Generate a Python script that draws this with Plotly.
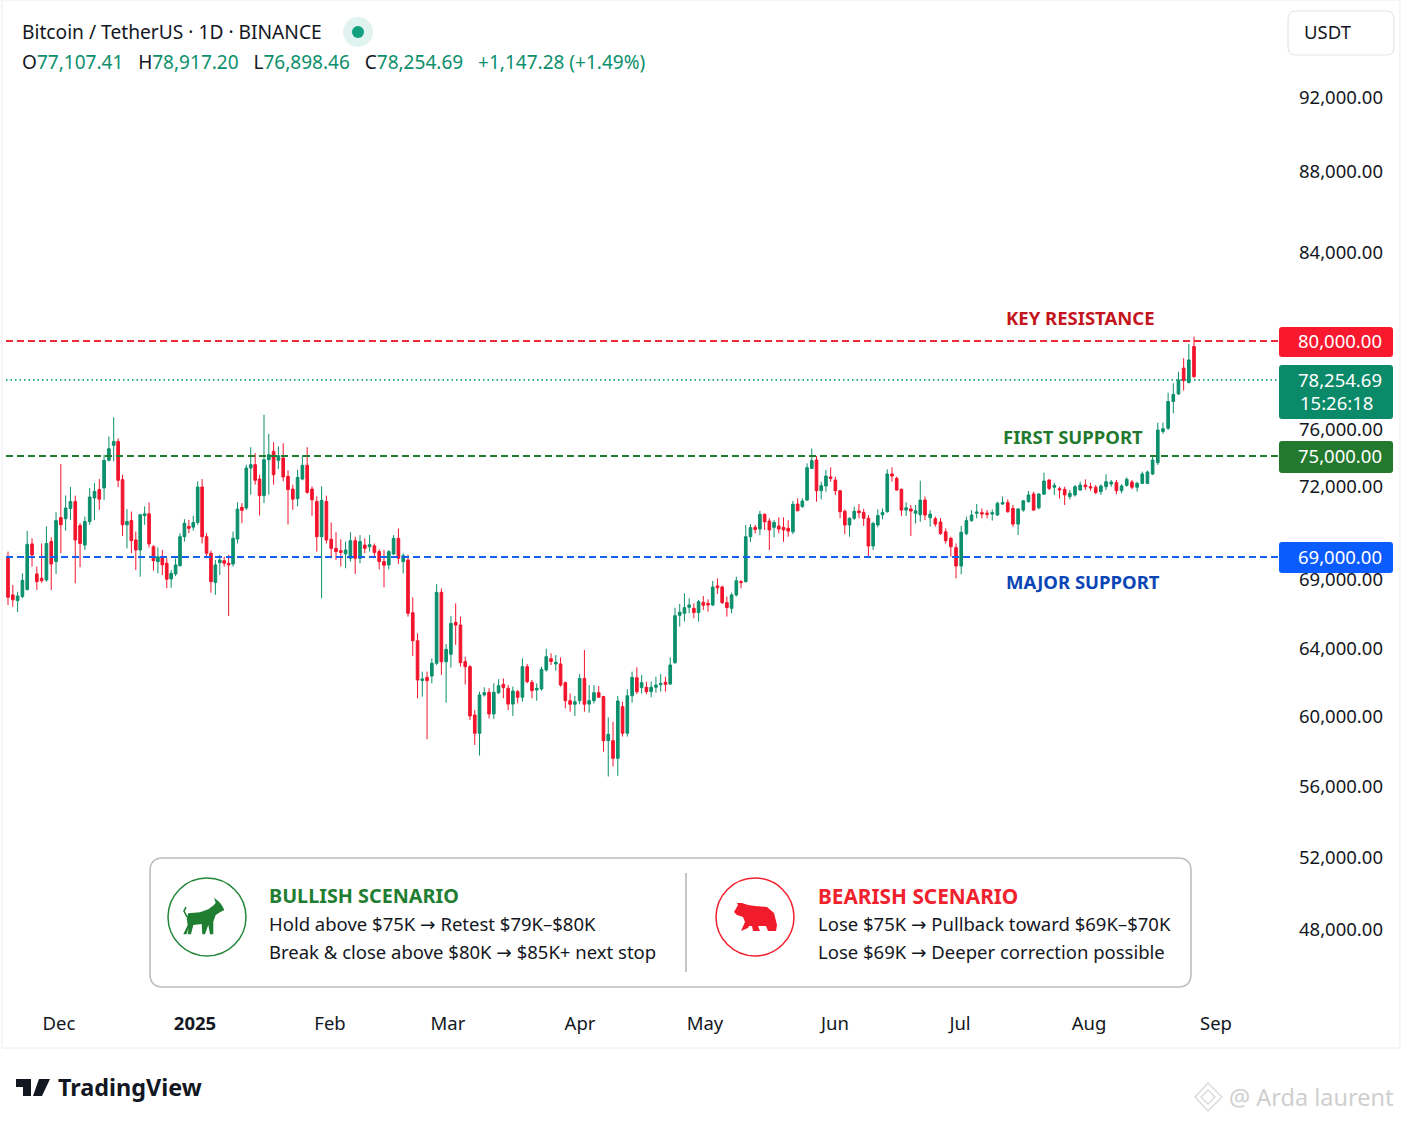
import numpy as np
import plotly.graph_objects as go

W, H = 1402, 1122
FONT = "Noto Sans"
UP = "#0b8f6c"
DOWN = "#f2142c"

# daily candles in USDT thousands
opens = [
    68.93,66.94,66.63,66.85,67.24,69.56,68.08,67.84,67.75,69.66,
    68.75,70.69,70.64,71.08,71.38,70.35,69.51,70.52,71.53,71.89,
    71.96,74.58,75.41,75.56,72.71,70.38,70.56,69.73,69.3,70.77,
    70.85,69.44,68.75,69.01,68.66,67.81,68.08,68.53,69.87,70.31,
    70.28,70.48,72,69.87,69.16,67.62,68.69,68.8,68.66,68.62,
    69.77,71.13,71.1,73.84,74.16,72.77,71.63,74.64,75.18,74.58,
    74.81,73.03,71.91,71.5,72.77,74.1,71.91,71.38,69.87,71.38,
    69.76,69.37,69.27,69.13,68.93,69.7,68.93,69.51,69.44,69.48,
    69.23,68.75,68.57,69.13,69.8,68.75,68.84,65.97,64.45,62.14,
    62.33,62.41,63.16,67.08,63.25,63.69,65.45,65.3,63.25,62.96,
    60.12,59.07,61.3,61.45,60.18,61.43,61.92,61.69,60.76,61.49,
    61.16,62.96,62.04,61.59,61.65,62.77,63.43,63.12,63.12,62.02,
    60.96,60.75,60.96,62.27,60.76,60.96,61.43,61.2,58.65,58.65,
    57.64,60.61,59.07,61.25,62.31,61.73,61.75,61.49,61.75,61.9,
    62.04,61.94,63.2,65.83,65.94,66.27,66.21,65.98,66.54,66.48,
    66.39,67.43,67.37,66.52,66.21,66.94,67.66,67.66,69.87,70.27,
    70.2,70.83,70.54,70.27,70.33,70.27,70.23,70.08,71.27,71.16,
    71.44,73.8,74.61,71.84,72.1,72.97,72.67,71.84,70.96,70.37,
    70.66,70.97,70.91,70.66,69.47,70.37,70.81,70.94,73.26,72.84,
    71.9,71.01,71.06,70.87,70.81,71.44,70.68,70.64,70.5,70.08,
    69.8,69.4,68.51,70,70.56,70.87,70.9,70.88,70.84,70.8,
    71.27,71.33,71.08,70.41,71.01,71.37,71.7,71.11,71.69,72.68,
    71.99,71.93,71.9,71.59,71.66,71.87,72.19,72.03,71.99,71.8,
    72.03,72.29,72.42,71.84,72.16,72.48,71.99,72.35,72.35,73.26,
    74.35,75.94,76.08,77.28,77.62,78.78,78.13,79.75,
]
highs = [
    69.23,67.48,67.11,68.11,70.12,69.8,68.48,69.58,70.31,69.84,
    70.92,74.22,71.64,72,71.63,70.45,70.73,71.96,72.39,72.77,
    75.05,75.75,76.57,75.68,73.19,71.05,70.95,70.09,70.85,71.17,
    71.34,69.51,69.41,69.3,68.93,68.29,68.93,70.02,70.62,70.59,
    70.77,72.55,72.77,70.02,69.27,68.84,69.09,69.01,69.09,70.09,
    71.34,71.31,74.16,75.34,75.11,73.19,76.69,75.85,75.53,75.37,
    75.49,73.61,72.23,73.68,75.03,75.34,72.06,71.6,72.06,71.63,
    70.48,70.06,69.76,69.66,70.06,69.87,69.94,69.8,69.94,69.58,
    69.33,69.3,69.3,69.94,70.23,69.16,69.09,66.81,64.85,62.67,
    62.67,63.45,67.53,67.29,64.27,65.79,66.48,65.76,63.55,63.06,
    60.41,61.49,61.75,61.69,61.98,62.22,62.27,61.88,61.79,61.59,
    63.45,63.12,62.18,61.98,62.96,64.02,63.75,63.65,63.51,62.08,
    61.39,61.24,62.53,63.94,61.88,61.88,61.82,61.24,59.98,59.73,
    61.24,60.9,61.63,62.67,62.92,62.47,62.08,62.08,62.37,62.53,
    62.37,63.51,66.24,66.45,67.03,66.76,66.48,66.67,66.88,66.7,
    67.7,67.84,67.44,66.85,67.06,67.93,67.75,70.37,70.41,70.37,
    70.98,70.87,70.66,70.58,70.7,70.7,70.58,71.4,71.51,71.51,
    74.29,75.29,75,72.51,73.64,73.9,73,71.87,71.04,70.7,
    71.16,71.27,71.06,70.8,70.51,71.04,71.08,73.71,73.9,73,
    71.94,71.34,71.23,71.23,72.61,71.59,71.01,70.73,70.67,70.23,
    69.87,69.58,70.33,70.73,71.01,71.27,71.08,71.01,71.04,71.37,
    71.59,71.47,71.23,71.08,71.44,71.83,71.8,71.73,73.39,72.74,
    72.42,72.03,72.03,71.87,72.19,72.51,72.74,72.42,72.19,72.26,
    73.23,72.68,72.68,72.29,72.94,72.68,72.51,73.49,73.58,75,
    76.33,76.33,77.68,78.1,78.62,79.23,79.87,80.2,
]
lows = [
    66.39,66.3,66,66.76,67.17,68.48,67.21,67.6,67.66,67.21,
    68.08,69.16,70.13,70.59,67.57,68.44,69.3,70.38,70.59,71.02,
    71.45,74.48,74.48,72,69.9,69.37,69.16,68.29,67.93,70.38,
    69.41,68.26,68.11,68.02,67.3,67.33,67.97,68.48,69.66,70.02,
    70.13,70.38,69.58,68.93,67.06,66.94,68.02,68.48,65.8,68.48,
    69.58,70.45,71.02,71.67,72.23,70.78,71.31,71.67,72.23,73.74,
    72.55,70.39,71.02,71.17,72.65,71.71,70.77,69.23,66.76,69.58,
    68.93,68.84,68.48,68.39,68.75,68.08,68.66,69.16,69.23,69,
    68.33,67.35,68.33,69.09,68.62,68.11,65.76,63.59,61.1,61.2,
    58.73,61.98,63.06,62.47,60.84,62.9,64.22,62.96,61.92,59.83,
    58.4,57.8,61.2,59.92,59.88,61.35,61.1,60.41,60.06,60.8,
    60.9,61.98,61.1,60.96,61.55,62.67,63.06,62.73,61.79,60.51,
    60.31,60.06,60.75,60.31,60.25,60.8,61.16,58.02,56.6,57.17,
    56.64,58.88,58.88,60.84,61.35,61.39,61.35,61.16,61.43,61.49,
    61.49,61.88,63.12,65.22,65.49,65.94,65.67,65.49,66.12,66.03,
    66.34,66.99,66.45,65.76,65.94,66.85,67.3,67.61,69.65,70.01,
    69.94,70.16,69.3,69.84,70.01,69.65,69.87,69.98,70.97,71.11,
    71.4,73.74,71.37,71.47,71.8,72.51,71.66,70.66,69.98,69.87,
    70.58,70.66,70.33,69.04,69.3,70.27,70.61,70.9,72.51,71.84,
    70.76,70.76,69.9,70.44,70.51,70.58,70.3,70.3,69.94,69.58,
    69.01,67.84,68.06,69.94,70.51,70.66,70.66,70.66,70.56,70.76,
    71.23,70.9,70.3,69.94,70.94,71.33,70.98,71.04,71.66,71.87,
    71.66,71.51,71.23,71.47,71.59,71.84,71.87,71.84,71.7,71.66,
    71.87,72.03,71.69,71.73,72.03,71.9,71.8,72.29,72.29,73.16,
    74.13,75.85,76,76.75,77.58,77.77,78.1,78.33,
]
closes = [
    66.81,66.67,66.88,67.73,69.54,69.09,67.66,67.71,69.58,68.62,
    70.56,70.38,71.1,71.38,69.73,69.58,70.52,71.57,71.81,71.48,
    74.58,75.28,75.56,72.65,70.38,70.52,69.7,69.3,70.81,70.85,
    69.56,68.8,69.01,68.57,67.79,68.11,68.57,69.87,70.45,70.23,
    70.48,72,69.87,69.16,67.66,68.57,68.84,68.66,68.57,69.8,
    71.05,71,73.84,74.16,72.65,71.63,74.64,75.05,73.19,75.01,
    72.97,71.89,71.48,72.93,74.1,71.77,71.45,69.87,71.43,69.73,
    69.37,69.23,69.19,69.3,69.7,68.93,69.66,69.37,69.53,69.19,
    68.75,68.55,69.23,69.8,68.93,69.06,65.94,64.45,62.18,62.24,
    62.14,63.16,67.08,63.25,63.98,65.39,65.3,63.2,62.96,60.06,
    59.07,61.3,61.43,60.18,61.45,61.84,61.73,60.76,61.53,61.16,
    62.96,62.08,61.55,61.69,62.8,63.55,63.27,63.22,61.88,60.96,
    60.75,60.9,62.27,60.75,60.96,61.43,61.16,58.65,59.01,57.64,
    60.94,59.07,61.25,62.33,61.49,62.02,61.49,61.75,61.88,61.98,
    61.92,63.06,65.81,66,66.25,66.39,65.98,66.57,66.38,66.39,
    67.37,67.33,66.52,66.25,66.94,67.71,67.61,69.87,70.26,70.18,
    70.83,70.51,70.16,70.48,70.2,70.16,70.11,71.26,70.98,71.4,
    73.87,74.55,71.84,72.13,73.06,72.84,71.84,70.94,70.37,70.66,
    70.96,70.9,70.66,69.47,70.44,70.78,70.91,73.26,73.06,71.87,
    71.01,71.11,70.97,70.98,71.44,70.8,70.84,70.41,70.01,69.7,
    69.44,68.51,70.06,70.56,70.8,70.93,70.84,70.83,70.9,71.3,
    71.33,70.94,70.41,71.06,71.41,71.66,71.01,71.7,72.58,71.94,
    72.16,71.87,71.66,71.73,72.03,72.19,72.03,71.96,71.76,72.1,
    72.51,72.48,71.84,72.1,72.74,71.99,72.35,73.26,73.45,74.61,
    76,76.06,77.28,77.6,78.25,78.22,79.15,78.4,
]

month_labels = ["Dec", "<b>2025</b>", "Feb", "Mar", "Apr", "May", "Jun", "Jul", "Aug", "Sep"]
month_pos = [59, 195, 330, 448, 580, 705, 835, 960, 1089, 1216]

# the price axis of the picture is not regular, so it is calibrated piece by piece
scale_prices = [92, 88, 84, 80, 76, 75, 72, 69, 64, 60, 56, 52, 48]
scale_pos = [98, 172, 253, 341, 430, 456, 487, 557, 649, 717, 787, 858, 930]

tick_prices = [92, 88, 84, 76, 72, 67.75, 64, 60, 56, 52, 48]
tick_labels = ["92,000.00", "88,000.00", "84,000.00", "76,000.00", "72,000.00", "69,000.00",
               "64,000.00", "60,000.00", "56,000.00", "52,000.00", "48,000.00"]

level_prices = [80, 78.25469, 75, 69]
level_colors = ["#ee2a38", "#17a184", "#1d7d2c", "#1460f0"]
level_dash = ["7px,4px", "1.5px,3px", "7px,4px", "7px,4px"]

# candle spacing drifts a little along the time axis
bar_anchor = [0, 22, 56, 86, 142, 195, 247]
bar_anchor_pos = [8, 113.7, 264, 408, 675, 925, 1194]


def to_axis(prices):
    # np.interp wants rising x; negative so a higher price stays a higher axis value
    return -np.interp(prices, scale_prices[::-1], scale_pos[::-1])


bar_x = np.interp(np.arange(len(opens)), bar_anchor, bar_anchor_pos)


def fx(px):
    return px / W


def fy(py):
    return 1 - py / H


def poly(points):
    return "M " + " L ".join(f"{fx(a):.5f},{fy(b):.5f}" for a, b in points) + " Z"


def rrect(x0, y0, x1, y1, r):
    # rounded box in paper coordinates, corners as quadratic curves
    return (f"M {fx(x0+r)},{fy(y0)} L {fx(x1-r)},{fy(y0)} Q {fx(x1)},{fy(y0)} {fx(x1)},{fy(y0+r)} "
            f"L {fx(x1)},{fy(y1-r)} Q {fx(x1)},{fy(y1)} {fx(x1-r)},{fy(y1)} "
            f"L {fx(x0+r)},{fy(y1)} Q {fx(x0)},{fy(y1)} {fx(x0)},{fy(y1-r)} "
            f"L {fx(x0)},{fy(y0+r)} Q {fx(x0)},{fy(y0)} {fx(x0+r)},{fy(y0)} Z")


def circle(cx, cy, r, line, fill="rgba(0,0,0,0)", width=1.5):
    return dict(type="circle", xref="paper", yref="paper", x0=fx(cx-r), x1=fx(cx+r), y0=fy(cy+r), y1=fy(cy-r),
                line=dict(color=line, width=width), fillcolor=fill)


def shape(path, fill="rgba(0,0,0,0)", line="rgba(0,0,0,0)", width=0):
    return dict(type="path", xref="paper", yref="paper", path=path, fillcolor=fill,
                line=dict(color=line, width=width))


def label(px, py, text, size=18.5, color="#131722", anchor="left"):
    return dict(xref="paper", yref="paper", x=fx(px), y=fy(py - 0.4), text=text, showarrow=False, xanchor=anchor,
                yanchor="middle", font=dict(family=FONT, size=size, color=color), align="left", borderpad=0)


fig = go.Figure()

for price, color, dash in zip(level_prices, level_colors, level_dash):
    fig.add_trace(go.Scatter(x=[6, 1279], y=to_axis([price, price]), mode="lines", hoverinfo="skip",
                             line=dict(color=color, width=1.8, dash=dash), showlegend=False))

fig.add_trace(go.Candlestick(
    x=bar_x,
    open=to_axis(opens),
    high=to_axis(highs),
    low=to_axis(lows),
    close=to_axis(closes),
    increasing=dict(line=dict(color=UP, width=1), fillcolor=UP),
    decreasing=dict(line=dict(color=DOWN, width=1), fillcolor=DOWN),
    whiskerwidth=0,
    showlegend=False,
    hoverinfo="skip",
))

shapes = [
    # chart frame and currency button
    shape(poly([(2, 0), (2, 1048), (1400, 1048), (1400, 0)]), line="#ececec", width=1),
    shape(rrect(1288, 11, 1394, 55, 8), fill="white", line="#e3e5ea", width=1.2),
    # price tags
    shape(rrect(1279, 327, 1393, 357, 3), fill="#f8192f"),
    shape(rrect(1279, 365, 1393, 419, 3), fill="#0a8a68"),
    shape(rrect(1279, 441, 1393, 473, 3), fill="#237a2e"),
    shape(rrect(1279, 542, 1393, 573, 3), fill="#0b5cff"),
    # status dot
    circle(358, 32, 15, "#e0f3ee", fill="#e0f3ee", width=0),
    circle(358, 32, 6, "#12a07e", fill="#12a07e", width=0),
    # scenario panel
    shape(rrect(150, 858, 1191, 987, 13), fill="white", line="#bdbdbd", width=1.6),
    shape(f"M {fx(686)},{fy(873)} L {fx(686)},{fy(972)}", line="#b4b4b4", width=1.5),
    circle(207, 917, 39, "#23873a"),
    circle(755, 917, 39, "#f2202f"),
    # bull
    shape(poly([(188.3, 913.3), (200, 912.3), (208.3, 909.3), (214, 905), (215.7, 902.7), (214, 897.7), (219, 901.7),
                (221.7, 905), (224.3, 910), (220, 912.3), (215.7, 915), (213.3, 921.7), (213.3, 934.3), (210, 934.3),
                (208.3, 925), (205, 934.3), (202.3, 934.3), (201.7, 924), (193.3, 925), (191, 934.3), (187.7, 934.3),
                (188.5, 928), (186.5, 934.3), (183.3, 934.3), (187.7, 925), (186.7, 918.3)]), fill="#1f7e31"),
    shape(f"M {fx(187)},{fy(917)} L {fx(184)},{fy(911)} L {fx(186)},{fy(907)}", line="#1f7e31", width=1.6),
    # bear
    shape(poly([(734, 912), (738, 905), (737, 903), (742, 903), (748, 905), (755, 906), (767, 907), (774, 913),
                (777, 925), (776, 931), (768, 931), (766, 926), (758, 926), (760, 931), (753, 931), (752, 926),
                (749, 926), (748, 928), (741, 931), (745, 922), (743, 917), (737, 915)]), fill="#f01c2c"),
    # TradingView mark
    shape(poly([(16, 1079), (31, 1079), (31, 1096), (23, 1096), (23, 1087), (16, 1087)]), fill="#131722"),
    shape(poly([(39, 1079), (50, 1079), (42, 1096), (33, 1096)]), fill="#131722"),
    # watermark mark
    shape(poly([(1208, 1083), (1222, 1097), (1208, 1111), (1195, 1097)]), line="#d9d9d9", width=1.4),
    shape(poly([(1208, 1090), (1215, 1097), (1208, 1104), (1201, 1097)]), line="#d9d9d9", width=1.4),
]

g = "#0b8f6c"
arrow = '<span style="font-family:DejaVu Sans">→</span>'
ohlc = (f'O<span style="color:{g}">77,107.41</span>   H<span style="color:{g}">78,917.20</span>   '
        f'L<span style="color:{g}">76,898.46</span>   C<span style="color:{g}">78,254.69</span>   '
        f'<span style="color:{g}">+1,147.28 (+1.49%)</span>')

annotations = [
    label(21, 32, "Bitcoin / TetherUS · 1D · BINANCE", size=19.2),
    label(21, 62, ohlc, size=19.05),
    label(1303, 32, "USDT"),
    label(1383, 341, "80,000.00", color="white", anchor="right"),
    label(1383, 380, "78,254.69", color="white", anchor="right"),
    label(1299, 403, "15:26:18", color="white"),
    label(1383, 456, "75,000.00", color="white", anchor="right"),
    label(1383, 557, "69,000.00", color="white", anchor="right"),
    label(1005, 318, "<b>KEY RESISTANCE</b>", size=18.5, color="#c4141c"),
    label(1002, 437, "<b>FIRST SUPPORT</b>", size=18.5, color="#1f7a2e"),
    label(1005, 582, "<b>MAJOR SUPPORT</b>", size=18.5, color="#0b45b5"),
    label(268, 896, "<b>BULLISH SCENARIO</b>", size=19.8, color="#1f7e31"),
    label(268, 924, f"Hold above $75K {arrow} Retest $79K–$80K", size=18.5),
    label(268, 952, f"Break &amp; close above $80K {arrow} $85K+ next stop", size=18.5),
    label(817, 896, "<b>BEARISH SCENARIO</b>", size=20.8, color="#f0222e"),
    label(817, 924, f"Lose $75K {arrow} Pullback toward $69K–$70K", size=18.5),
    label(817, 952, f"Lose $69K {arrow} Deeper correction possible", size=18.5),
    label(57, 1087, "<b>TradingView</b>", size=23.4),
    label(1228, 1097, "@ Arda laurent", size=23.5, color="#cfcfcf"),
]

fig.update_layout(
    width=W,
    height=H,
    margin=dict(l=0, r=0, t=0, b=0),
    paper_bgcolor="white",
    plot_bgcolor="white",
    font=dict(family=FONT, size=18.5, color="#131722"),
    showlegend=False,
    hovermode=False,
    boxgap=0.15,
    shapes=shapes,
    annotations=annotations,
)
fig.update_xaxes(
    domain=[fx(2), fx(1280)],
    range=[2, 1280],
    rangeslider_visible=False,
    showgrid=False,
    zeroline=False,
    showline=False,
    tickmode="array",
    tickvals=month_pos,
    ticktext=month_labels,
    ticklen=0,
    ticklabelstandoff=5,
)
fig.update_yaxes(
    domain=[fy(1005), 1],
    range=[-1005, 0],
    side="right",
    showgrid=False,
    zeroline=False,
    showline=False,
    tickmode="array",
    tickvals=to_axis(tick_prices),
    ticktext=tick_labels,
    ticklen=0,
    ticklabelstandoff=18,
)

fig.write_html("out.html", config={"displayModeBar": False},
               post_script="document.body.style.margin='0';document.body.style.overflow='hidden';")
